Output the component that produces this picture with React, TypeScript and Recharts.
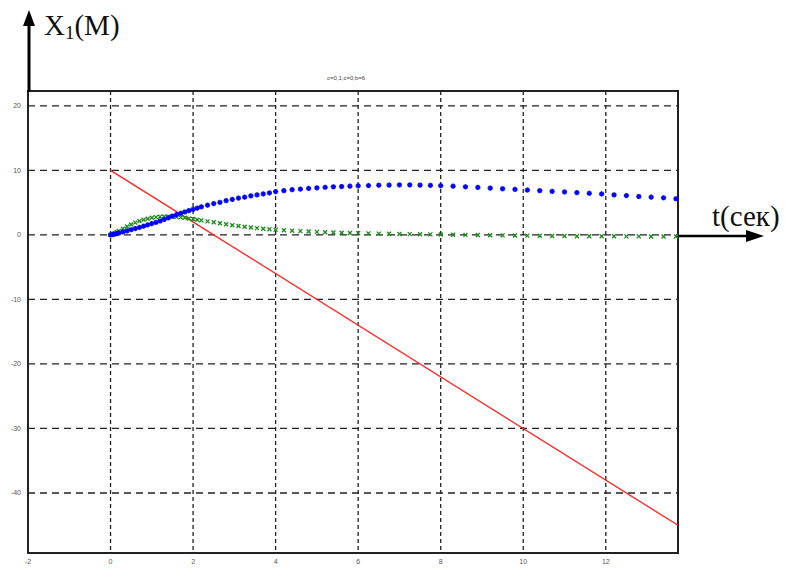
import {
  ComposedChart,
  Line,
  XAxis,
  YAxis,
  CartesianGrid,
  ReferenceArea,
} from "recharts";

// simulation time steps (solver output, denser near the start)
const T = [
  0, 0.05, 0.1, 0.15, 0.2, 0.3, 0.4, 0.5, 0.6, 0.7, 0.8, 0.9, 1.0, 1.1, 1.2, 1.3, 1.4, 1.5,
  1.6, 1.7, 1.8, 1.9, 2.0, 2.1, 2.2, 2.35, 2.5, 2.65, 2.8, 2.95, 3.1, 3.25, 3.4, 3.55, 3.7,
  3.85, 4.0, 4.2, 4.4, 4.6, 4.8, 5.0, 5.2, 5.4, 5.6, 5.8, 6.0, 6.25, 6.5, 6.75, 7.0, 7.25,
  7.5, 7.75, 8.0, 8.3, 8.6, 8.9, 9.2, 9.5, 9.8, 10.1, 10.4, 10.7, 11.0, 11.3, 11.6, 11.9,
  12.2, 12.5, 12.8, 13.1, 13.4, 13.7,
];

const BLUE = [
  0, 0.05, 0.12, 0.2, 0.28, 0.45, 0.62, 0.8, 0.98, 1.15, 1.35, 1.55, 1.75, 1.95, 2.15, 2.4,
  2.65, 2.9, 3.15, 3.35, 3.55, 3.75, 3.95, 4.15, 4.35, 4.6, 4.85, 5.05, 5.3, 5.5, 5.7, 5.85,
  6.05, 6.2, 6.35, 6.5, 6.7, 6.85, 7.0, 7.1, 7.2, 7.3, 7.38, 7.45, 7.5, 7.55, 7.6, 7.65,
  7.7, 7.72, 7.74, 7.74, 7.72, 7.68, 7.62, 7.55, 7.45, 7.35, 7.25, 7.15, 7.05, 6.95, 6.85,
  6.75, 6.65, 6.55, 6.45, 6.35, 6.2, 6.1, 5.95, 5.85, 5.75, 5.6,
];

const GREEN = [
  0, 0.15, 0.3, 0.45, 0.6, 0.95, 1.3, 1.6, 1.9, 2.15, 2.35, 2.5, 2.65, 2.75, 2.8, 2.85, 2.85,
  2.82, 2.78, 2.72, 2.65, 2.55, 2.45, 2.35, 2.25, 2.1, 1.95, 1.8, 1.65, 1.5, 1.38, 1.25,
  1.15, 1.05, 0.95, 0.88, 0.8, 0.72, 0.65, 0.58, 0.52, 0.47, 0.42, 0.38, 0.34, 0.3, 0.27,
  0.24, 0.2, 0.17, 0.14, 0.12, 0.1, 0.08, 0.05, 0.02, 0, -0.02, -0.05, -0.07, -0.1, -0.12,
  -0.14, -0.16, -0.18, -0.2, -0.2, -0.22, -0.22, -0.23, -0.23, -0.24, -0.24, -0.25,
];

// straight red trajectory, end points only
const RED_T = [0, 13.75];
const RED_X = [10, -45];

const X_TICKS = [-2, 0, 2, 4, 6, 8, 10, 12];
const Y_TICKS = [-40, -30, -20, -10, 0, 10, 20];
const X_DOMAIN: [number, number] = [-2, 13.75];
const Y_DOMAIN: [number, number] = [-49.3, 22.3];

const rows = T.map((t, i) => ({ t, blue: BLUE[i], green: GREEN[i] }));
const redRows = RED_T.map((t, i) => ({ t, red: RED_X[i] }));

const StarDot = (props: any) => {
  const { cx, cy, index } = props;
  if (cx == null || cy == null) return <g key={index} />;
  const r = 2.6;
  return (
    <g key={index} stroke="#0000ff" strokeWidth={1.6}>
      <line x1={cx - r} y1={cy} x2={cx + r} y2={cy} />
      <line x1={cx} y1={cy - r} x2={cx} y2={cy + r} />
      <line x1={cx - r * 0.7} y1={cy - r * 0.7} x2={cx + r * 0.7} y2={cy + r * 0.7} />
      <line x1={cx - r * 0.7} y1={cy + r * 0.7} x2={cx + r * 0.7} y2={cy - r * 0.7} />
    </g>
  );
};

const CrossDot = (props: any) => {
  const { cx, cy, index } = props;
  if (cx == null || cy == null) return <g key={index} />;
  const r = 2;
  return (
    <g key={index} stroke="#1a8a1a" strokeWidth={1.3}>
      <line x1={cx - r} y1={cy - r} x2={cx + r} y2={cy + r} />
      <line x1={cx - r} y1={cy + r} x2={cx + r} y2={cy - r} />
    </g>
  );
};

const XTick = ({ x, payload }: any) => (
  <text x={x} y={564} textAnchor="middle" fontSize={7} fill="#555" fontFamily="Arial, sans-serif">
    {payload.value}
  </text>
);

const YTick = ({ y, payload }: any) => (
  <text x={21} y={y + 2.5} textAnchor="end" fontSize={7} fill="#555" fontFamily="Arial, sans-serif">
    {payload.value}
  </text>
);

export default function App() {
  return (
    <div style={{ position: "absolute", left: 0, top: 0, width: 801, height: 568, background: "#fff" }}>
      <ComposedChart
        width={801}
        height={568}
        data={rows}
        margin={{ top: 91, right: 123, left: 0, bottom: 0 }}
      >
        <CartesianGrid vertical={false} stroke="#222" strokeWidth={1.3} strokeDasharray="7 5" />
        <CartesianGrid horizontal={false} stroke="#222" strokeWidth={1.3} strokeDasharray="4 3" />
        <XAxis
          dataKey="t"
          type="number"
          domain={X_DOMAIN}
          ticks={X_TICKS}
          interval={0}
          allowDataOverflow
          axisLine={false}
          tickLine={false}
          height={15}
          tick={<XTick />}
        />
        <YAxis
          type="number"
          domain={Y_DOMAIN}
          ticks={Y_TICKS}
          interval={0}
          allowDataOverflow
          axisLine={false}
          tickLine={false}
          width={28}
          tick={<YTick />}
        />
        <ReferenceArea
          x1={X_DOMAIN[0]}
          x2={X_DOMAIN[1]}
          y1={Y_DOMAIN[0]}
          y2={Y_DOMAIN[1]}
          fill="none"
          stroke="#222"
          strokeWidth={2}
          ifOverflow="visible"
        />
        <Line
          data={redRows}
          dataKey="red"
          stroke="#ff2020"
          strokeWidth={1.3}
          dot={false}
          isAnimationActive={false}
        />
        <Line
          dataKey="green"
          stroke="none"
          dot={CrossDot}
          activeDot={false}
          isAnimationActive={false}
        />
        <Line
          dataKey="blue"
          stroke="none"
          dot={StarDot}
          activeDot={false}
          isAnimationActive={false}
        />
      </ComposedChart>
      <svg
        width={801}
        height={568}
        style={{ position: "absolute", left: 0, top: 0, pointerEvents: "none" }}
      >
        {/* vertical axis arrow */}
        <line x1={29} y1={92} x2={29} y2={24} stroke="#000" strokeWidth={3} />
        <polygon points="29,10 23,26 35,26" fill="#000" />
        <text x={44} y={35} fontSize={29} fontFamily="'Liberation Serif', serif" fill="#111">
          X<tspan fontSize={19} dy={4}>1</tspan>
          <tspan dy={-4}>(М)</tspan>
        </text>
        {/* horizontal axis arrow */}
        <line x1={679} y1={236} x2={750} y2={236} stroke="#000" strokeWidth={2.5} />
        <polygon points="764,236 746,230 746,242" fill="#000" />
        <text x={712} y={226} fontSize={29} fontFamily="'Liberation Serif', serif" fill="#111">
          t(сек)
        </text>
        <text x={346} y={80} fontSize={6} fontFamily="Arial, sans-serif" fill="#444" textAnchor="middle">
          c=0,1;c=0;b=6
        </text>
      </svg>
    </div>
  );
}
